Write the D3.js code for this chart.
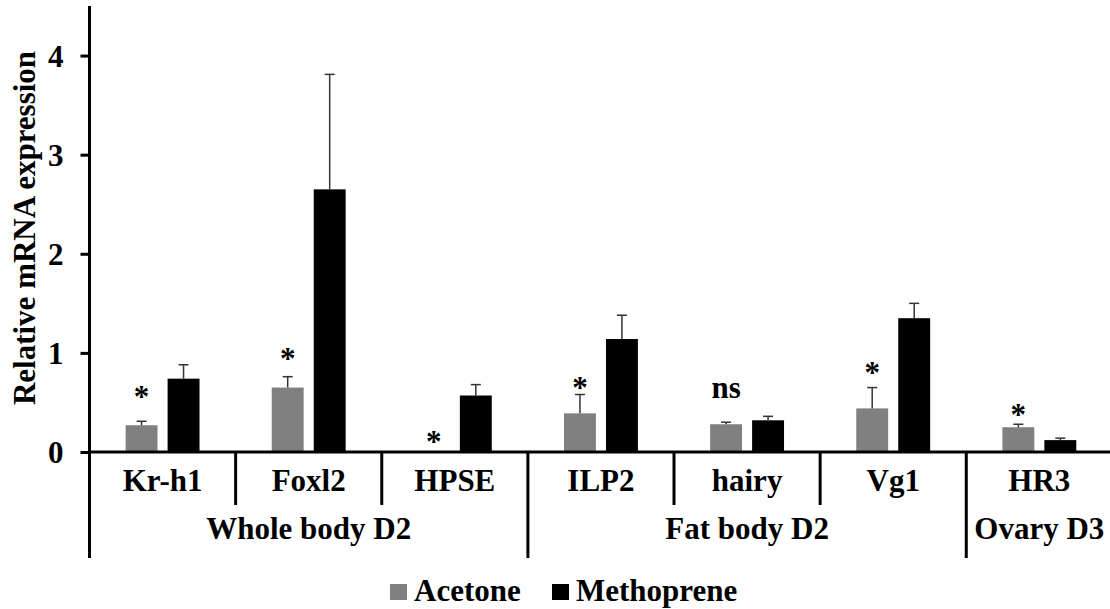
<!DOCTYPE html>
<html>
<head>
<meta charset="utf-8">
<script src="https://cdn.jsdelivr.net/npm/d3@7"></script>
<style>
  html, body { margin: 0; padding: 0; background: #fff; }
  svg { display: block; }
  text { font-family: "Liberation Serif", "Times New Roman", serif; font-weight: bold; fill: #000; font-size: 31px; }
</style>
</head>
<body>
<svg id="chart" width="1110" height="609"></svg>
<script>
// Genes along the x axis, grouped by tissue / day
const genes = ["Kr-h1", "Foxl2", "HPSE", "ILP2", "hairy", "Vg1", "HR3"];
const tissueGroups = ["Whole body D2", "Fat body D2", "Ovary D3"];
const genesPerGroup = [3, 3, 1];

// Treatments (legend order)
const treatments = ["Acetone", "Methoprene"];

// Mean relative expression and standard error for each treatment
const acetoneMean = [0.27, 0.65, 0.004, 0.39, 0.28, 0.44, 0.25];
const acetoneErr  = [0.04, 0.11, 0.0, 0.19, 0.02, 0.21, 0.03];
const methopreneMean = [0.74, 2.65, 0.57, 1.14, 0.32, 1.35, 0.12];
const methopreneErr  = [0.14, 1.16, 0.11, 0.24, 0.04, 0.15, 0.02];

// Significance marks over each gene and the height (in expression units) they sit at
const sigMarks = ["*", "*", "*", "*", "ns", "*", "*"];
const sigLevel = [0.62, 1.0, 0.16, 0.71, 0.63, 0.86, 0.43];

// Y axis ticks
const yTicks = [0, 1, 2, 3, 4];

const colors = { Acetone: "#808080", Methoprene: "#000000" };
const fontSize = "31px";

const svg = d3.select("#chart");
const axisX = 89.5;
const baseY = 452;
const plotRight = 1112.4;

const x = d3.scaleBand().domain(genes).range([axisX, plotRight]).padding(0);
const xs = d3.scaleBand().domain(treatments).range([0, x.bandwidth()])
  .paddingInner(0.24).paddingOuter(0.86);
const y = d3.scaleLinear().domain([0, 4.5]).range([baseY, 6]);

const rows = genes.map((g, i) => ({
  gene: g,
  values: [
    { t: "Acetone", v: acetoneMean[i], e: acetoneErr[i] },
    { t: "Methoprene", v: methopreneMean[i], e: methopreneErr[i] }
  ]
}));

// Bars
const geneG = svg.append("g").selectAll("g").data(rows).join("g")
  .attr("transform", d => `translate(${x(d.gene)},0)`);

geneG.selectAll("rect").data(d => d.values).join("rect")
  .attr("x", d => xs(d.t))
  .attr("width", xs.bandwidth())
  .attr("y", d => y(d.v))
  .attr("height", d => y(0) - y(d.v))
  .attr("fill", d => colors[d.t]);

// Upper error bars
const errs = geneG.selectAll("g.err").data(d => d.values.filter(v => v.e > 0)).join("g")
  .attr("class", "err");
errs.append("line")
  .attr("x1", d => xs(d.t) + xs.bandwidth() / 2)
  .attr("x2", d => xs(d.t) + xs.bandwidth() / 2)
  .attr("y1", d => y(d.v))
  .attr("y2", d => y(d.v + d.e))
  .attr("stroke", "#333").attr("stroke-width", 1.5);
errs.append("line")
  .attr("x1", d => xs(d.t) + xs.bandwidth() / 2 - 5)
  .attr("x2", d => xs(d.t) + xs.bandwidth() / 2 + 5)
  .attr("y1", d => y(d.v + d.e))
  .attr("y2", d => y(d.v + d.e))
  .attr("stroke", "#333").attr("stroke-width", 1.5);

// Significance labels above the acetone bars
svg.append("g").selectAll("text").data(genes).join("text")
  .attr("x", (g, i) => x(g) + xs("Acetone") + xs.bandwidth() / 2)
  .attr("y", (g, i) => y(sigLevel[i]) + (sigMarks[i] === "*" ? 16 : 8))
  .attr("text-anchor", "middle")
  .style("font-size", fontSize)
  .text((g, i) => sigMarks[i]);

// Y axis
const yAxis = d3.axisLeft(y).tickValues(yTicks).tickSize(9).tickPadding(17)
  .tickFormat(d3.format("d"));
const yg = svg.append("g").attr("transform", `translate(${axisX},0)`).call(yAxis);
yg.select(".domain").remove();
yg.selectAll(".tick line").attr("stroke", "#000").attr("stroke-width", 3);
yg.selectAll(".tick text")
  .attr("dy", "0.34em")
  .style("font-size", fontSize)
  .style("font-family", "'Liberation Serif', 'Times New Roman', serif").style("font-weight", "bold");

// Axis lines
svg.append("line").attr("x1", axisX).attr("x2", axisX).attr("y1", 6).attr("y2", 558)
  .attr("stroke", "#000").attr("stroke-width", 3);
svg.append("line").attr("x1", axisX).attr("x2", 1110).attr("y1", baseY).attr("y2", baseY)
  .attr("stroke", "#000").attr("stroke-width", 3);

// Dividers between genes and between tissue groups
const groupStarts = [];
let acc = 0;
genesPerGroup.forEach(n => { groupStarts.push(acc); acc += n; });

genes.forEach((g, i) => {
  if (i === 0) return;
  const isGroupEdge = groupStarts.includes(i);
  svg.append("line")
    .attr("x1", x(g)).attr("x2", x(g))
    .attr("y1", baseY).attr("y2", isGroupEdge ? 558 : 505)
    .attr("stroke", "#000").attr("stroke-width", 3);
});

// Gene labels
svg.append("g").selectAll("text").data(genes).join("text")
  .attr("x", g => x(g) + x.bandwidth() / 2)
  .attr("y", 491)
  .attr("text-anchor", "middle")
  .style("font-size", fontSize)
  .text(g => g);

// Tissue group labels
svg.append("g").selectAll("text").data(tissueGroups).join("text")
  .attr("x", (t, i) => {
    const first = genes[groupStarts[i]];
    const last = genes[groupStarts[i] + genesPerGroup[i] - 1];
    return (x(first) + x(last) + x.bandwidth()) / 2;
  })
  .attr("y", 539)
  .attr("text-anchor", "middle")
  .style("font-size", fontSize)
  .text(t => t);

// Y axis title
svg.append("text")
  .attr("transform", "translate(35,228) rotate(-90)")
  .attr("text-anchor", "middle")
  .style("font-size", fontSize)
  .text("Relative mRNA expression");

// Legend
const legend = svg.append("g");
const legendX = [390, 552];
treatments.forEach((t, i) => {
  legend.append("rect")
    .attr("x", legendX[i]).attr("y", 584).attr("width", 17).attr("height", 16)
    .attr("fill", colors[t]);
  legend.append("text")
    .attr("x", legendX[i] + 24).attr("y", 601)
    .style("font-size", fontSize)
    .text(t);
});
</script>
</body>
</html>
